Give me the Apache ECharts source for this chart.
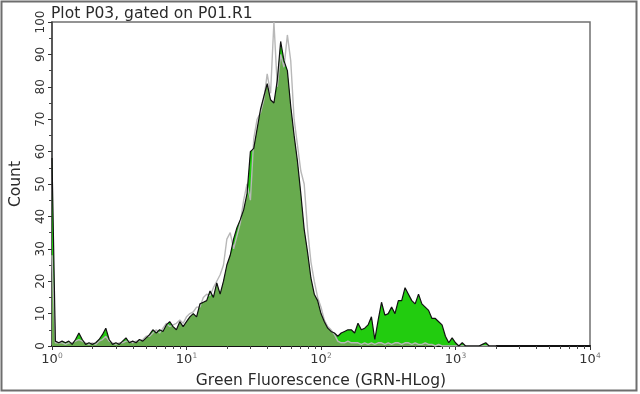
<!DOCTYPE html>
<html>
<head>
<meta charset="utf-8">
<script src="https://cdn.jsdelivr.net/npm/echarts@6/dist/echarts.min.js"></script>
<style>html,body{margin:0;padding:0;background:#fff}#c{width:640px;height:394px}</style>
</head>
<body>
<div id="c"></div>
<script>
// Histogram bins on the log10(fluorescence) scale: bin i sits at binStart + i*binWidth decades
var binStart = 0;
var binWidth = 0.025;

// Sample histogram (black outline), counts per bin
var sampleCounts = [
  58, 1.5, 1, 1.5, 1, 1.5, 0.5, 2, 4, 2,
  0.5, 1, 0.5, 1, 2, 3.5, 5.5, 2, 0.5, 1,
  0.5, 1.5, 2.5, 1, 1.5, 1, 2, 1.5, 2.5, 3.5,
  5, 4, 5, 4.5, 6.5, 7.5, 6, 5, 7.5, 6,
  7.5, 9, 10, 9, 13, 13.5, 14, 17, 15, 19.5,
  16, 20, 25, 28, 33, 36.5, 39, 42, 47, 60,
  61, 67, 73, 77, 81, 76, 75, 82, 94, 88,
  85, 74, 65, 57, 47, 36, 29, 21, 16, 14,
  10, 7.5, 5.5, 4.5, 4, 3, 4, 4.5, 5, 5,
  4, 7, 5, 5.5, 6.5, 9, 2, 8, 13.5, 9.5,
  10, 12, 10, 14, 14, 18, 16, 14, 13, 16,
  13, 12, 11, 8.5, 8.5, 7.5, 6.5, 3, 1, 2.5,
  1, 0, 1, 0, 0, 0, 0, 0, 0.5, 1,
  0, 0, 0
];

// Control / overlay histogram (light grey outline), counts per bin
var controlCounts = [
  28, 1, 1, 1, 0.5, 1, 1, 1.5, 2, 1.5,
  1, 0.5, 1, 0.5, 1.5, 2, 3, 1.5, 1, 0.5,
  1, 1, 1.5, 1.5, 1, 1.5, 1.5, 2, 3, 3,
  4, 5, 4, 5.5, 7, 6, 6.5, 7, 8, 7,
  9, 10, 10.5, 12, 12, 15, 16, 15.5, 18, 20,
  22, 25, 33, 35, 30, 34, 38, 45, 50, 45,
  64, 70, 72, 76, 84, 78, 100, 80, 90, 86,
  96, 88, 70, 62, 54, 50, 36, 26, 20, 15,
  12, 8, 6, 5, 3.5, 1.5, 1, 1, 1.5, 1,
  1, 1, 0.5, 1, 0.5, 1, 0.5, 1, 1, 0.5,
  1, 0.5, 1, 1, 0.5, 1, 1, 0.5, 1, 0.5,
  0.5, 1, 0.5, 0.5, 0, 0.5, 0, 0, 0, 0,
  0, 0, 0, 0, 0, 0, 0, 0, 0, 0,
  0, 0, 0
];

// Axis tick values
var decadeTicks = [0, 1, 2, 3, 4];          // exponents shown as 10^n
var minorMultipliers = [2, 3, 4, 5, 6, 7, 8, 9];
var yTicks = [0, 10, 20, 30, 40, 50, 60, 70, 80, 90, 100];

var titleText = 'Plot P03, gated on P01.R1';
var xTitle = 'Green Fluorescence (GRN-HLog)';
var yTitle = 'Count';

function pairs(arr) {
  return arr.map(function (v, i) { return [binStart + i * binWidth, v]; });
}
var overlapCounts = sampleCounts.map(function (v, i) { return Math.min(v, controlCounts[i]); });

var minorTickValues = [];
for (var d = 0; d < 4; d++) {
  minorMultipliers.forEach(function (m) { minorTickValues.push(d + Math.log10(m)); });
}

var FONT = 'DejaVu Sans';
var chart = echarts.init(document.getElementById('c'), null, { renderer: 'canvas' });
chart.setOption({
  animation: false,
  backgroundColor: '#fff',
  textStyle: { fontFamily: FONT },
  title: {
    text: titleText, left: 46, top: 1,
    textStyle: { fontFamily: FONT, fontSize: 15.5, fontWeight: 'normal', color: '#2a2a2a' }
  },
  graphic: [{
    type: 'rect', silent: true, z: -1,
    shape: { x: 1.5, y: 1.5, width: 635, height: 389 },
    style: { fill: 'none', stroke: '#6e6e6e', lineWidth: 2 }
  }],
  grid: { left: 48, right: 50, top: 22, bottom: 48, show: true, borderColor: '#707070', borderWidth: 1.5 },
  xAxis: [{
    type: 'value', min: 0, max: 4, interval: 1,
    name: xTitle, nameLocation: 'middle', nameGap: 27,
    nameTextStyle: { fontFamily: FONT, fontSize: 15.5, color: '#2a2a2a' },
    axisLine: { show: true, onZero: false, lineStyle: { color: '#111', width: 2 } },
    axisTick: { show: true, length: 4, lineStyle: { color: '#333' } },
    splitLine: { show: false },
    axisLabel: {
      margin: 6, color: '#333', fontSize: 13, fontFamily: FONT,
      customValues: decadeTicks,
      formatter: function (v) { return '10{s|' + v + '}'; },
      rich: { s: { fontSize: 7.5, color: '#777', fontFamily: FONT, padding: [0, 0, 8, 0] } }
    }
  }, {
    type: 'value', min: 0, max: 4, position: 'bottom',
    axisLine: { show: false },
    axisTick: { show: true, length: 3, customValues: minorTickValues, lineStyle: { color: '#444' } },
    axisLabel: { show: false },
    splitLine: { show: false }
  }],
  yAxis: {
    type: 'value', min: 0, max: 100, interval: 10,
    name: yTitle, nameLocation: 'middle', nameGap: 28,
    nameTextStyle: { fontFamily: FONT, fontSize: 15.5, color: '#2a2a2a' },
    axisLine: { show: true, lineStyle: { color: '#444', width: 1.5 } },
    axisTick: { show: true, length: 4, lineStyle: { color: '#333' } },
    minorTick: { show: true, splitNumber: 2, length: 3, lineStyle: { color: '#444' } },
    splitLine: { show: false },
    axisLabel: {
      rotate: 90, margin: 5, color: '#333', fontSize: 12, fontFamily: FONT,
      customValues: yTicks
    }
  },
  series: [{
    name: 'sample fill', type: 'line', data: pairs(sampleCounts),
    showSymbol: false, symbol: 'none', silent: true,
    lineStyle: { width: 0 }, areaStyle: { color: '#22cc0f', opacity: 1 }, z: 2
  }, {
    name: 'overlap fill', type: 'line', data: pairs(overlapCounts),
    showSymbol: false, symbol: 'none', silent: true,
    lineStyle: { width: 0 }, areaStyle: { color: '#68ab4e', opacity: 1 }, z: 3
  }, {
    name: 'control', type: 'line', data: pairs(controlCounts),
    showSymbol: false, symbol: 'none', silent: true,
    lineStyle: { width: 1.4, color: '#b8b8b8' }, z: 4
  }, {
    name: 'sample', type: 'line', data: pairs(sampleCounts),
    showSymbol: false, symbol: 'none', silent: true,
    lineStyle: { width: 1.2, color: '#111' }, z: 5
  }]
});
</script>
</body>
</html>
